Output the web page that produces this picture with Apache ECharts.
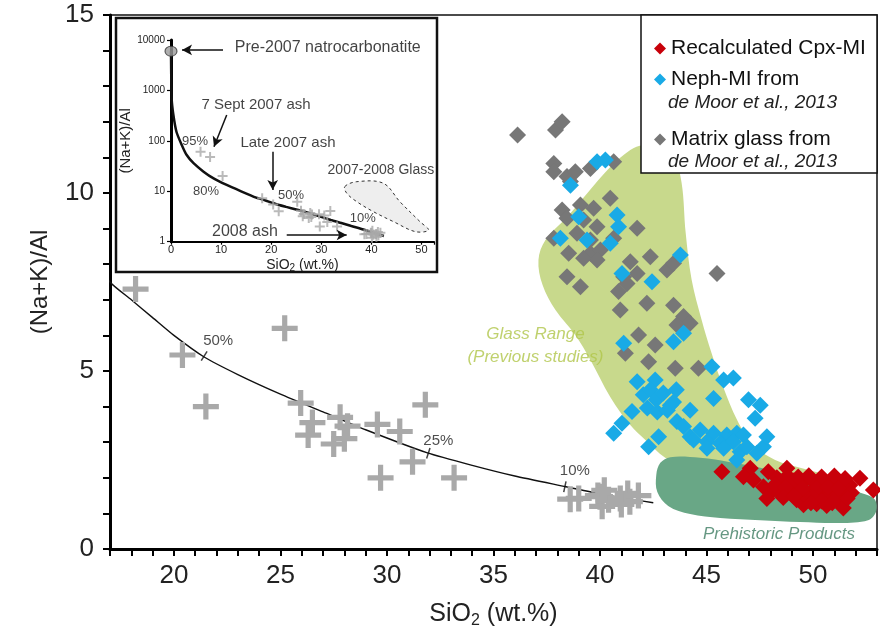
<!DOCTYPE html>
<html><head><meta charset="utf-8">
<script src="https://cdn.jsdelivr.net/npm/echarts@6/dist/echarts.min.js"></script>
<style>html,body{margin:0;padding:0;background:#fff}#c{width:880px;height:641px}</style>
</head><body><div id="c"></div>
<script>
// ---------------- data ----------------
// ash samples (grey crosses), [SiO2, (Na+K)/Al]
const ashCrosses = [[18.2,7.3],[20.4,5.45],[21.5,4.0],[25.2,6.2],[25.95,4.1],[26.5,3.55],[26.3,3.2],[27.8,3.7],[28.15,3.45],[27.5,2.95],[28.0,3.1],[29.55,3.5],[30.6,3.3],[29.7,2.0],[31.2,2.45],[31.8,4.05],[33.15,2.0],
  [38.6,1.4],[39.0,1.42],[39.9,1.5],[40.0,1.47],[40.1,1.2],[40.4,1.38],[40.95,1.42],[41.3,1.56],[41.4,1.33],[41.8,1.5],[40.2,1.65],[41.0,1.25]];
// 7 Sept 2007 ash, visible in inset only
const earlyAshCrosses = [[5.9,61],[7.8,48],[10.3,20]];
// natrocarbonatite end member
const natroPoint = [[0,6000]];
// mixing curve
const mixCurve = [[0,6000],[0.13,700],[0.47,330],[1.1,150],[2.1,85],[3.1,53],[4.5,36],[6.5,24.5],[8.5,18],[11,13.5],[14,10],[17,7.5],[18,7.0],[19,6.5],[20,6.0],[21.4,5.4],[23,4.9],[25,4.35],[27,3.85],[29,3.35],[31.9,2.7],[34,2.35],[36,2.05],[38.4,1.75],[40,1.55],[42.5,1.3]];
const mixTickLabels = ['50%','25%','10%'];
const mixTickPoints = [[21.42,5.42],[31.94,2.69],[38.35,1.75]];
// matrix glass (grey diamonds)
const matrixGlass = [[36.13,11.63],[37.91,11.77],[38.22,12.0],[37.83,10.83],[37.83,10.6],[38.45,10.46],[38.84,10.6],[38.61,10.32],[39.55,10.69],[40.64,10.88],[40.48,9.85],[38.22,9.52],[39.08,9.66],[39.7,9.57],[38.45,9.29],[39.23,9.24],[39.86,9.05],[41.74,9.01],[37.83,8.73],[38.92,8.87],[39.55,8.68],[40.64,8.73],[38.53,8.31],[39.55,8.31],[40.02,8.4],[39.86,8.12],[39.23,8.17],[41.42,8.07],[42.36,8.21],[43.14,7.84],[43.45,8.03],[41.74,7.74],[41.11,7.65],[38.45,7.65],[39.08,7.37],[40.87,7.23],[41.27,7.46],[42.2,6.9],[43.45,6.85],[43.92,6.53],[44.23,6.34],[40.95,6.71],[45.49,7.74],[41.81,6.01],[42.59,5.73],[41.19,5.5],[42.28,5.26],[43.53,5.08],[44.62,5.08],[43.61,6.29]];
// nepheline melt inclusions (blue diamonds)
const nephMI = [[39.86,10.88],[40.25,10.93],[38.61,10.22],[39.0,9.33],[40.8,9.38],[40.87,9.05],[38.14,8.73],[39.39,8.68],[40.48,8.59],[41.03,7.74],[42.44,7.51],[43.77,8.26],[41.11,5.78],[43.45,5.82],[43.92,6.06],[41.74,4.7],[42.59,4.75],[45.25,5.12],[45.8,4.75],[46.26,4.8],[42.03,4.33],[42.36,4.47],[42.64,4.19],[42.97,4.38],[43.3,4.04],[43.58,4.47],[42.22,3.96],[42.69,3.85],[43.16,3.9],[43.45,4.13],[45.33,4.23],[46.97,4.19],[47.52,4.04],[47.28,3.67],[41.5,3.86],[44.23,3.9],[41.03,3.53],[40.64,3.25],[43.61,3.58],[43.92,3.44],[42.75,3.15],[42.28,2.87],[44.23,3.15],[44.7,3.34],[45.33,3.25],[45.95,3.2],[46.42,3.25],[46.73,3.2],[44.39,3.06],[45.02,3.01],[45.64,2.97],[46.26,3.01],[45.02,2.83],[45.8,2.83],[46.58,2.73],[46.89,2.87],[47.67,2.87],[47.83,3.15],[46.42,2.5],[47.36,2.69]];
// recalculated Cpx-MI (red diamonds)
const cpxMI = [[45.72,2.17],[47.05,2.27],[46.73,2.03],[47.2,1.94],[47.9,2.17],[48.77,2.27],[47.67,1.75],[48.14,1.66],[47.83,1.42],
  [48.59,1.89],[49.06,1.92],[49.53,1.86],[50.0,1.9],[50.47,1.88],[50.94,1.92],[51.41,1.86],[51.73,1.8],
  [48.45,1.57],[48.92,1.6],[49.39,1.55],[49.86,1.58],[50.33,1.55],[50.8,1.6],[51.27,1.57],[51.64,1.62],
  [49.55,1.24],[50.17,1.27],[50.64,1.22],[51.27,1.3],[51.42,1.15],[52.2,1.99],[52.83,1.66],[49.23,1.38],
  [49.0,1.75],[50.2,1.72],[51.0,1.45],[49.8,1.42],[50.6,1.4],
  [48.3,2.0],[48.8,2.05],[49.3,2.02],[49.8,2.06],[50.4,2.02],[51.0,2.05],[51.5,1.98],
  [48.2,1.8],[48.7,1.72],[49.5,1.7],[50.7,1.75],[51.2,1.7],[51.8,1.58],
  [48.6,1.45],[49.1,1.48],[50.0,1.45],[50.4,1.35],[51.6,1.42],[50.9,1.3],[49.9,1.3]];
// outlined fields
const glassRange = [[42.03,11.35],[42.83,11.32],[43.45,11.07],[43.83,10.28],[44.02,8.88],[44.3,7.56],[44.77,6.43],[45.23,5.51],[45.78,4.55],[46.44,3.62],[47.19,2.92],[48.22,2.5],[49.39,2.28],[50.8,2.05],[51.36,1.88],[51.03,1.66],[49.39,1.6],[47.52,1.8],[45.64,1.99],[44.23,2.22],[43.06,2.56],[42.13,3.06],[41.42,3.48],[40.48,4.27],[39.55,5.31],[38.84,6.01],[37.91,6.71],[37.3,7.42],[37.11,8.12],[37.44,8.68],[38.47,9.33],[39.41,10.0],[40.48,10.73],[41.42,11.21]];
const prehistoric = [[43.3,2.58],[44.7,2.56],[46.11,2.44],[47.52,2.28],[49.39,1.99],[51.27,1.71],[52.44,1.54],[52.91,1.38],[52.95,1.04],[52.58,0.81],[51.27,0.73],[49.39,0.76],[47.52,0.81],[45.64,0.87],[44.23,0.98],[43.2,1.21],[42.69,1.6],[42.64,2.08],[42.83,2.42]];
const insetGlass = [[34.7,12.4],[37.1,15.5],[42.4,14.4],[45.7,6.2],[49.7,2.5],[51.4,1.7],[48.8,1.58],[44.4,2.5],[40.4,3.94],[37.1,6.2],[35.1,9.1]];
const insetYTicks = [1,10,100,1000,10000];

// ---------------- chart ----------------
const FONT = "'Liberation Sans', Arial, sans-serif";
const NARROW = "'Liberation Sans Narrow', 'Arial Narrow', 'Liberation Sans', sans-serif";
const C_CROSS = '#a9a9a9', C_GREY = '#777777', C_BLUE = '#19aae6', C_RED = '#c8000a';
const C_LGREEN = '#c8d98c', C_DGREEN = '#69a786';
const PLUS = 'path://M4,0h2v4h4v2h-4v4h-2v-4h-4v-2h4z';

function polygonSeries(pts, xi, yi, style, z) {
  return {
    type: 'custom', xAxisIndex: xi, yAxisIndex: yi, z: z, silent: true,
    data: [pts[0]],
    renderItem: (params, api) => ({
      type: 'polygon',
      shape: { points: pts.map(p => api.coord(p)), smooth: 0.35 },
      style: style
    })
  };
}

const tickRot = [-32, -18, -12];
const tickLabelOffset = [[14,-15],[10,-12],[10,-16]];

const insetNotes = [
  {name:'Pre-2007 natrocarbonatite', value:[31.3,6970], fs:16},
  {name:'7 Sept 2007 ash', value:[16.97,515], fs:15},
  {name:'95%', value:[4.79,99.5], fs:13},
  {name:'Late 2007 ash', value:[23.35,90.8], fs:15},
  {name:'80%', value:[6.99,10.1], fs:13},
  {name:'50%', value:[23.95,8.45], fs:13},
  {name:'2007-2008 Glass', value:[41.9,26.5], fs:14},
  {name:'10%', value:[38.3,2.95], fs:13},
  {name:'2008 ash', value:[14.77,1.56], fs:16}
];
const insetArrows = [
  [[10.38,6365],[2.2,6365]],
  [[11.12,326],[8.58,76.7]],
  [[20.3,61],[20.3,10.6]],
  [[23.1,1.36],[35.07,1.36]]
];

const legendText = { fontSize: 21, color: '#111' };

const option = {
  animation: false,
  backgroundColor: '#fff',
  textStyle: { fontFamily: FONT },
  grid: [
    { left: 110, right: 3, top: 15, bottom: 92, show: true, borderColor: '#111', borderWidth: 1.5, backgroundColor: 'transparent' },
    { left: 171, top: 40, width: 263, height: 201.7 }
  ],
  xAxis: [
    { type: 'value', gridIndex: 0, min: 17, max: 53, interval: 1,
      axisLine: { onZero: false, lineStyle: { color: '#000', width: 3 } },
      axisTick: { inside: false, length: 7, lineStyle: { color: '#000', width: 2 } },
      axisLabel: { interval: 0, margin: 14, fontSize: 26, fontFamily: NARROW, color: '#222',
        formatter: v => (v % 5 === 0 ? String(v) : '') },
      splitLine: { show: false },
      name: '{a|SiO}{b|2}{a| (wt.%)}', nameLocation: 'middle', nameGap: 50,
      nameTextStyle: { rich: { a: { fontSize: 25, fontFamily: NARROW, color: '#222' }, b: { fontSize: 16, fontFamily: NARROW, color: '#222', padding: [14,0,0,0] } } }
    },
    { type: 'value', gridIndex: 1, min: 0, max: 52.5, interval: 10,
      axisLine: { onZero: false, lineStyle: { color: '#000', width: 2 } },
      axisTick: { length: 3, lineStyle: { color: '#000', width: 1.2 } },
      axisLabel: { margin: 3, fontSize: 11, color: '#222', formatter: v => (v <= 50 ? String(v) : '') },
      splitLine: { show: false },
      name: '{a|SiO}{b|2}{a| (wt.%)}', nameLocation: 'middle', nameGap: 14,
      nameTextStyle: { rich: { a: { fontSize: 14, color: '#222' }, b: { fontSize: 10, color: '#222', padding: [8,0,0,0] } } }
    }
  ],
  yAxis: [
    { type: 'value', gridIndex: 0, min: 0, max: 15, interval: 1,
      axisLine: { onZero: false, lineStyle: { color: '#000', width: 3 } },
      axisTick: { inside: false, length: 7, lineStyle: { color: '#000', width: 2 } },
      axisLabel: { interval: 0, margin: 16, fontSize: 26, color: '#222',
        formatter: v => (v % 5 === 0 ? String(v) : '') },
      splitLine: { show: false },
      name: '(Na+K)/Al', nameLocation: 'middle', nameGap: 58, nameRotate: 90,
      nameTextStyle: { fontSize: 24, color: '#222' }
    },
    { type: 'log', gridIndex: 1, min: 1, max: 10000, logBase: 10,
      axisLine: { onZero: false, lineStyle: { color: '#000', width: 3 } },
      axisTick: { length: 4, lineStyle: { color: '#000', width: 1.2 } },
      axisLabel: { margin: 6, fontSize: 10, color: '#222', formatter: v => (insetYTicks.indexOf(v) >= 0 ? String(v) : '') },
      splitLine: { show: false },
      name: '(Na+K)/Al', nameLocation: 'middle', nameGap: 34, nameRotate: 90,
      nameTextStyle: { fontSize: 15, color: '#222' }
    }
  ],
  legend: [
    { data: ['Recalculated Cpx-MI'], left: 649, top: 33, orient: 'vertical', icon: 'diamond', itemWidth: 12, itemHeight: 12, textStyle: legendText },
    { data: ['Neph-MI from'], left: 649, top: 64, orient: 'vertical', icon: 'diamond', itemWidth: 12, itemHeight: 12, textStyle: legendText },
    { data: ['Matrix glass from'], left: 649, top: 124, orient: 'vertical', icon: 'diamond', itemWidth: 12, itemHeight: 12, textStyle: legendText }
  ],
  graphic: [
    { type: 'rect', z: 3, shape: { x: 641, y: 15, width: 236, height: 158 }, style: { fill: '#fff', stroke: '#111', lineWidth: 1.5 } },
    { type: 'text', z: 5, left: 668, top: 93, style: { text: 'de Moor et al., 2013', font: 'italic 19px ' + FONT, fill: '#222' } },
    { type: 'text', z: 5, left: 668, top: 152, style: { text: 'de Moor et al., 2013', font: 'italic 19px ' + FONT, fill: '#222' } },
    { type: 'rect', z: 3, shape: { x: 116, y: 18, width: 321, height: 254 }, style: { fill: 'none', stroke: '#111', lineWidth: 2.5 } }
  ],
  series: [
    // fields
    polygonSeries(glassRange, 0, 0, { fill: C_LGREEN, stroke: 'none' }, 1),
    polygonSeries(prehistoric, 0, 0, { fill: C_DGREEN, stroke: 'none' }, 1),
    // mixing curve
    { type: 'line', xAxisIndex: 0, yAxisIndex: 0, data: mixCurve, showSymbol: false, smooth: 0.2, clip: true, z: 2,
      lineStyle: { color: '#111', width: 1.4 }, silent: true },
    { type: 'scatter', xAxisIndex: 0, yAxisIndex: 0, z: 3, silent: true,
      data: mixTickPoints.map((p, i) => ({ value: p, name: mixTickLabels[i], symbolRotate: tickRot[i],
        label: { show: true, formatter: mixTickLabels[i], offset: tickLabelOffset[i], position: 'inside', fontSize: 15, color: '#222' } })),
      symbol: 'rect', symbolSize: [1.5, 11], itemStyle: { color: '#111' } },
    // ash crosses
    { type: 'scatter', xAxisIndex: 0, yAxisIndex: 0, data: ashCrosses, symbol: PLUS, symbolSize: 26, z: 3, silent: true,
      itemStyle: { color: C_CROSS, opacity: 1 } },
    // diamonds
    { name: 'Matrix glass from', type: 'scatter', xAxisIndex: 0, yAxisIndex: 0, data: matrixGlass, symbol: 'diamond', symbolSize: 17, z: 4,
      itemStyle: { color: C_GREY, opacity: 1 } },
    { name: 'Neph-MI from', type: 'scatter', xAxisIndex: 0, yAxisIndex: 0, data: nephMI, symbol: 'diamond', symbolSize: 17, z: 4,
      itemStyle: { color: C_BLUE, opacity: 1 } },
    { name: 'Recalculated Cpx-MI', type: 'scatter', xAxisIndex: 0, yAxisIndex: 0, data: cpxMI, symbol: 'diamond', symbolSize: 17, z: 4,
      itemStyle: { color: C_RED, opacity: 1 } },
    // field labels
    { type: 'scatter', xAxisIndex: 0, yAxisIndex: 0, symbolSize: 0, z: 5, silent: true,
      data: [
        { name: 'Glass Range', value: [36.97, 6.04], label: { color: '#b0c64a' } },
        { name: '(Previous studies)', value: [36.97, 5.39], label: { color: '#b0c64a' } },
        { name: 'Prehistoric Products', value: [48.4, 0.4], label: { color: '#3f7d63' } }
      ],
      label: { show: true, position: 'inside', formatter: p => p.name, fontSize: 17, fontStyle: 'italic' } },
    // ---------- inset ----------
    polygonSeries(insetGlass, 1, 1, { fill: '#eeeeee', stroke: '#333', lineWidth: 1, lineDash: [3, 3] }, 1),
    { type: 'line', xAxisIndex: 1, yAxisIndex: 1, data: mixCurve, showSymbol: false, smooth: 0.2, z: 2, silent: true,
      lineStyle: { color: '#111', width: 2.5 },
      markLine: { silent: true, symbol: ['none', 'arrow'], symbolSize: [8, 10], animation: false,
        lineStyle: { color: '#111', width: 1.5, type: 'solid' }, label: { show: false },
        data: insetArrows.map(a => [{ coord: a[0] }, { coord: a[1] }]) } },
    { type: 'scatter', xAxisIndex: 1, yAxisIndex: 1, data: ashCrosses.concat(earlyAshCrosses), symbol: PLUS, symbolSize: 10, z: 3, silent: true,
      itemStyle: { color: C_CROSS } },
    { type: 'scatter', xAxisIndex: 1, yAxisIndex: 1, data: natroPoint, symbol: 'circle', symbolSize: [12, 10], z: 4, silent: true,
      itemStyle: { color: '#9a9a9a', borderColor: '#333', borderWidth: 1 } },
    { type: 'scatter', xAxisIndex: 1, yAxisIndex: 1, symbolSize: 0, z: 5, silent: true,
      data: insetNotes.map(n => ({ name: n.name, value: n.value, label: { fontSize: n.fs } })),
      label: { show: true, position: 'inside', formatter: p => p.name, color: '#111' } }
  ]
};
const chart = echarts.init(document.getElementById('c'));
chart.setOption(option);
</script></body></html>
